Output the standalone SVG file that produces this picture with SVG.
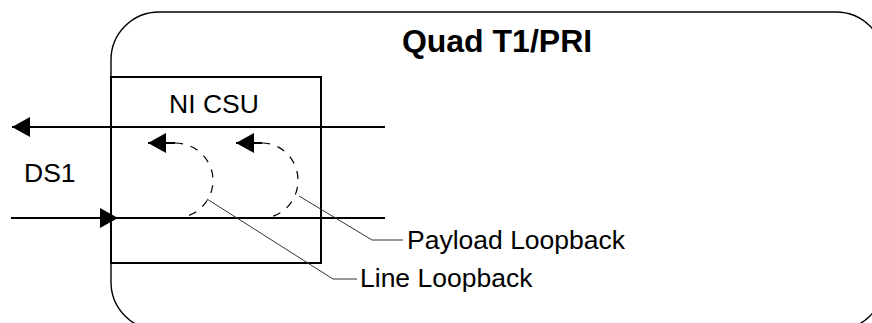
<svg xmlns="http://www.w3.org/2000/svg" width="872" height="323" viewBox="0 0 872 323">
<style>
text{font-family:"Liberation Sans",Arial,sans-serif;fill:#000}
.lbl{font-size:26.5px}
.title{font-size:32px;font-weight:bold}
.thick{fill:none;stroke:#000;stroke-width:2}
.dash{fill:none;stroke:#000;stroke-width:1.2;stroke-dasharray:8 8}
.lead{fill:none;stroke:#333;stroke-width:1}
</style>
<defs>
<marker id="ah" markerUnits="userSpaceOnUse" viewBox="0 0 18 20" refX="18" refY="10" markerWidth="18" markerHeight="20" orient="auto">
<path d="M0,0 L18,10 L0,20 z" fill="#000"/>
</marker>
</defs>
<g id="quad">
<rect x="111" y="12" width="773" height="318" rx="48" ry="48" fill="none" stroke="#000" stroke-width="1.4"/>
<text class="title" x="497" y="52" text-anchor="middle">Quad T1/PRI</text>
</g>
<g id="nicsu">
<rect x="111" y="77" width="210" height="186" class="thick"/>
<text class="lbl" x="214" y="113" text-anchor="middle">NI CSU</text>
</g>
<g id="ds1">
<text class="lbl" x="24" y="182">DS1</text>
</g>
<g id="labels">
<text class="lbl" x="407" y="249">Payload Loopback</text>
<text class="lbl" x="360" y="287">Line Loopback</text>
</g>
<g id="connectors">
<path class="thick" d="M385,127 L12,127" marker-end="url(#ah)"/>
<path class="thick" d="M11,218 L118,218" marker-end="url(#ah)"/>
<path class="thick" d="M118,218 L385,218"/>
<path class="thick" d="M175,143 L148,143" marker-end="url(#ah)"/>
<path class="thick" d="M262,143 L236,143" marker-end="url(#ah)"/>
<path class="dash" d="M175,143 A38,37.5 0 0 1 175,218"/>
<path class="dash" d="M262,143 A36,37.5 0 0 1 262,218"/>
<path class="lead" d="M207,199 L333,279 L357,279"/>
<path class="lead" d="M299,196 L372,240 L403,240"/>
</g>
</svg>
